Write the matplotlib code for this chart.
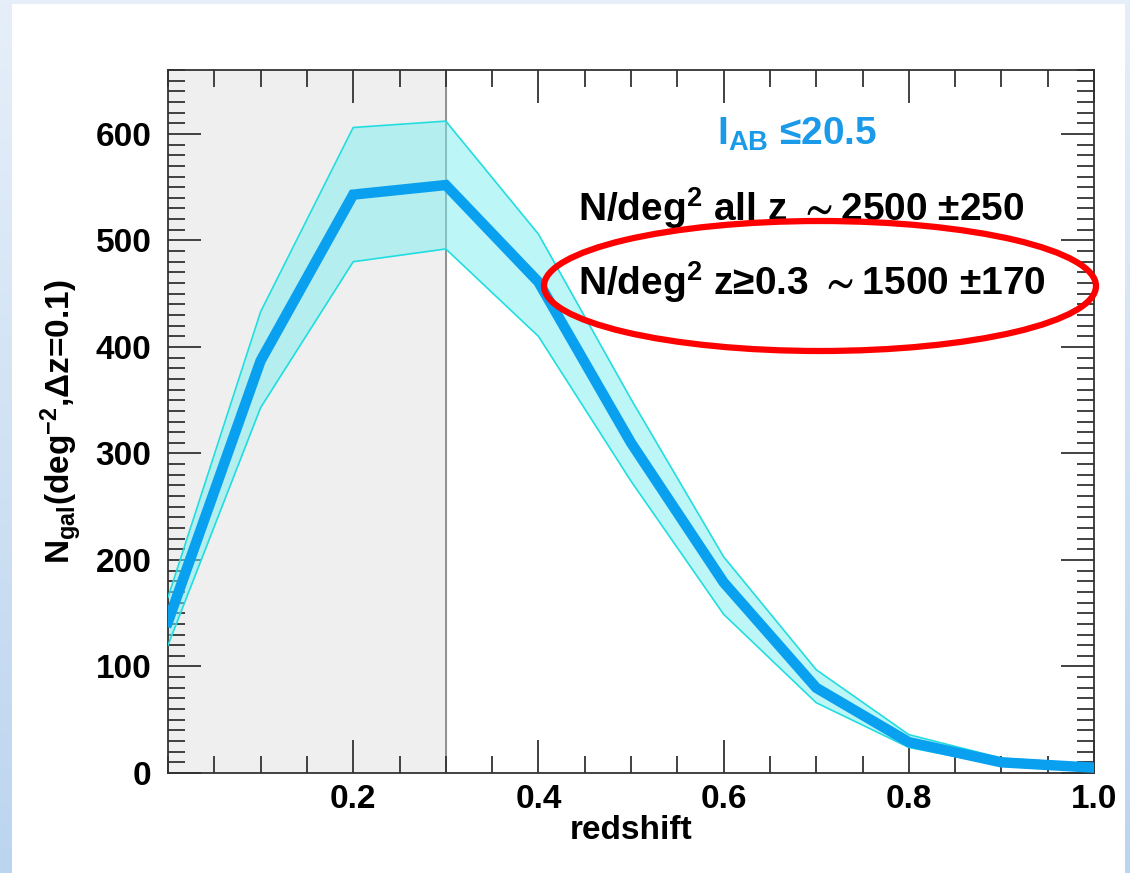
import matplotlib.pyplot as plt
import numpy as np
from matplotlib.patches import Ellipse, Rectangle
from matplotlib.colors import LinearSegmentedColormap

plt.rcParams['font.family'] = ['Liberation Sans', 'DejaVu Sans']
plt.rcParams['font.weight'] = 'bold'
plt.rcParams['mathtext.fontset'] = 'custom'
plt.rcParams['mathtext.rm'] = 'Liberation Sans:bold'
plt.rcParams['mathtext.it'] = 'Liberation Sans:bold'
plt.rcParams['mathtext.bf'] = 'Liberation Sans:bold'
plt.rcParams['mathtext.sf'] = 'Liberation Sans:bold'
plt.rcParams['mathtext.fallback'] = 'stixsans'

# redshift bins and galaxy counts per deg^2 (mean and band)
redshift = [0.0, 0.1, 0.2, 0.3, 0.4, 0.5, 0.6, 0.7, 0.8, 0.9, 1.0]
n_mean = [142, 387, 543, 552, 461, 310, 179, 80, 29, 10, 5]
n_upper = [165, 433, 606, 612, 506, 351, 203, 97, 36, 14, 8]
n_lower = [120, 343, 480, 492, 410, 274, 149, 66, 24, 7, 2]

xticks = [0.2, 0.4, 0.6, 0.8, 1.0]
xticklabels = ['0.2', '0.4', '0.6', '0.8', '1.0']
yticks = [0, 100, 200, 300, 400, 500, 600]

fig = plt.figure(figsize=(11.3, 8.73), dpi=100)

# slide background
bg = fig.add_axes([0, 0, 1, 1], zorder=-10)
grad = np.linspace(0, 1, 200).reshape(-1, 1)
bg.imshow(grad, aspect='auto', extent=[0, 1, 0, 1], origin='upper',
          cmap=LinearSegmentedColormap.from_list('slide', ['#e6eff9', '#bcd5ef']))
bg.add_patch(Rectangle((12 / 1130, 0), (1125 - 12) / 1130, (873 - 4) / 873,
                       facecolor='white', edgecolor='none'))
bg.set_xlim(0, 1)
bg.set_ylim(0, 1)
bg.axis('off')

ax = fig.add_axes([168 / 1130, 100 / 873, (1094 - 168) / 1130, (773 - 70) / 873])
ax.set_facecolor('none')

ax.axvspan(0, 0.3, color='#efefef', zorder=0)
ax.axvline(0.3, color='#8a8a8a', lw=1.3, zorder=1)

ax.fill_between(redshift, n_lower, n_upper, color='#7deeee', alpha=0.5, lw=0, zorder=2)
ax.plot(redshift, n_upper, color='#22dde0', lw=1.2, zorder=3)
ax.plot(redshift, n_lower, color='#22dde0', lw=1.2, zorder=3)
ax.plot(redshift, n_mean, color='#0aa0f0', lw=7.5, solid_joinstyle='miter', zorder=4)

ax.set_xlim(0, 1)
ax.set_ylim(0, 660)
ax.set_xticks(xticks)
ax.set_xticklabels(xticklabels)
ax.set_yticks(yticks)
ax.set_xticks(np.arange(0, 1.001, 0.05), minor=True)
ax.set_yticks(np.arange(0, 661, 10), minor=True)
ax.tick_params(which='both', direction='in', top=True, right=True, colors='#333333',
               width=1.3, labelcolor='black', labelsize=24)
ax.tick_params(which='major', length=24)
ax.tick_params(which='minor', length=12)
ax.tick_params(axis='y', pad=12)
ax.tick_params(axis='x', pad=8)
for s in ax.spines.values():
    s.set_color('#333333')
    s.set_linewidth(1.3)

ax.set_xlabel('redshift', fontsize=24, fontweight='bold', labelpad=0)
ax.set_ylabel(r'N$_{\mathrm{gal}}$(deg$^{\mathrm{-2}}$,Δz=0.1)', fontsize=24,
              fontweight='bold', labelpad=8)

ax.text(717 / 1130, (873 - 145) / 873, r'I$_{\mathrm{AB}}$ ≤20.5', transform=fig.transFigure,
        color='#1a9ae8', fontsize=28, fontweight='bold')
ax.text(578 / 1130, (873 - 221) / 873, r'N/deg$^{\mathrm{2}}$ all z ${\sim}$2500 ±250',
        transform=fig.transFigure, color='black', fontsize=28, fontweight='bold')
ax.text(578 / 1130, (873 - 295) / 873, r'N/deg$^{\mathrm{2}}$ z≥0.3 ${\sim}$1500 ±170',
        transform=fig.transFigure, color='black', fontsize=28, fontweight='bold')

ax.add_patch(Ellipse((820 / 1130, (873 - 286) / 873), 552 / 1130, 130 / 873,
                     transform=fig.transFigure, fill=False, edgecolor='#ff0000',
                     lw=4.5, clip_on=False, zorder=10))

fig.savefig('out.png', dpi=100)
